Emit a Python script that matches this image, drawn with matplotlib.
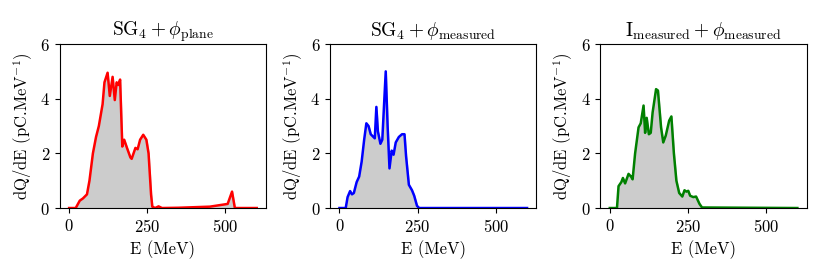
import matplotlib
matplotlib.use('Agg')
import matplotlib.pyplot as plt

plt.rcParams['font.family'] = 'serif'
plt.rcParams['font.serif'] = ['cmr10', 'DejaVu Serif']
plt.rcParams['mathtext.fontset'] = 'cm'
plt.rcParams['axes.unicode_minus'] = False
plt.rcParams['axes.formatter.use_mathtext'] = True

# energy (MeV) and dQ/dE (pC/MeV)
e_plane = [0, 21, 34, 44, 57, 65, 76, 86, 95, 107, 113, 123, 130, 139, 146, 152, 157, 163,
           170, 176, 185, 196, 200, 212, 219, 227, 237, 247, 254, 262, 266, 275, 286, 297,
           350, 450, 507, 521, 530, 600]
q_plane = [0, 0, 0.27, 0.35, 0.5, 1.0, 2.0, 2.6, 3.0, 3.8, 4.6, 4.95, 4.1, 4.8, 3.95, 4.6, 4.5, 4.7,
           2.25, 2.5, 2.2, 1.85, 1.8, 2.2, 2.15, 2.5, 2.68, 2.5, 2.0, 0.5, 0.05, 0.0, 0.06, 0.0,
           0.01, 0.05, 0.15, 0.6, 0.0, 0.0]

e_sg4 = [0, 20, 26, 34, 40, 46, 55, 63, 71, 79, 86, 93, 100, 113, 118, 123, 131, 137, 148,
         154, 160, 167, 173, 180, 190, 200, 208, 213, 222, 232, 239, 248, 255, 600]
q_sg4 = [0, 0, 0.4, 0.62, 0.5, 0.55, 0.95, 1.15, 1.7, 2.5, 3.1, 3.0, 2.7, 2.55, 3.7, 2.8, 2.35, 2.5, 5.0,
         3.0, 1.45, 2.1, 1.95, 2.4, 2.6, 2.7, 2.7, 1.9, 0.85, 0.65, 0.45, 0.08, 0.0, 0.0]

e_meas = [0, 23, 28, 37, 42, 49, 60, 68, 73, 81, 92, 99, 108, 113, 118, 125, 131, 137, 148,
          154, 164, 171, 179, 190, 197, 205, 213, 222, 232, 239, 245, 251, 257, 267, 276, 287,
          295, 600]
q_meas = [0, 0, 0.8, 0.95, 1.1, 0.9, 1.25, 1.15, 1.05, 2.0, 2.95, 3.1, 3.75, 2.75, 3.3, 2.7, 2.75, 3.5,
          4.35, 4.3, 2.95, 2.4, 2.65, 3.2, 3.35, 2.0, 1.0, 0.55, 0.42, 0.65, 0.6, 0.63, 0.45, 0.4,
          0.42, 0.15, 0.02, 0.0]

titles = [r'$\mathrm{SG}_4 + \phi_\mathrm{plane}$',
          r'$\mathrm{SG}_4 + \phi_\mathrm{measured}$',
          r'$\mathrm{I}_\mathrm{measured} + \phi_\mathrm{measured}$']
series = [(e_plane, q_plane, 'red'), (e_sg4, q_sg4, 'blue'), (e_meas, q_meas, 'green')]

fig, axes = plt.subplots(1, 3, figsize=(8.3, 2.77), dpi=100)
fig.subplots_adjust(left=0.072, right=0.972, bottom=0.249, top=0.841, wspace=0.31)

for ax, (e, q, c), t in zip(axes, series, titles):
    ax.fill_between(e, q, color='#cccccc')
    ax.plot(e, q, color=c, lw=1.8)
    ax.set_ylim(0, 6)
    ax.set_yticks([0, 2, 4, 6])
    ax.set_xticks([0, 250, 500])
    ax.set_title(t, fontsize=14)
    ax.set_xlabel('E (MeV)', fontsize=12)
    ax.set_ylabel(r'dQ/dE (pC.MeV$^{-1}$)', fontsize=12)
    ax.tick_params(labelsize=12)

fig.savefig('out.png', dpi=100)
